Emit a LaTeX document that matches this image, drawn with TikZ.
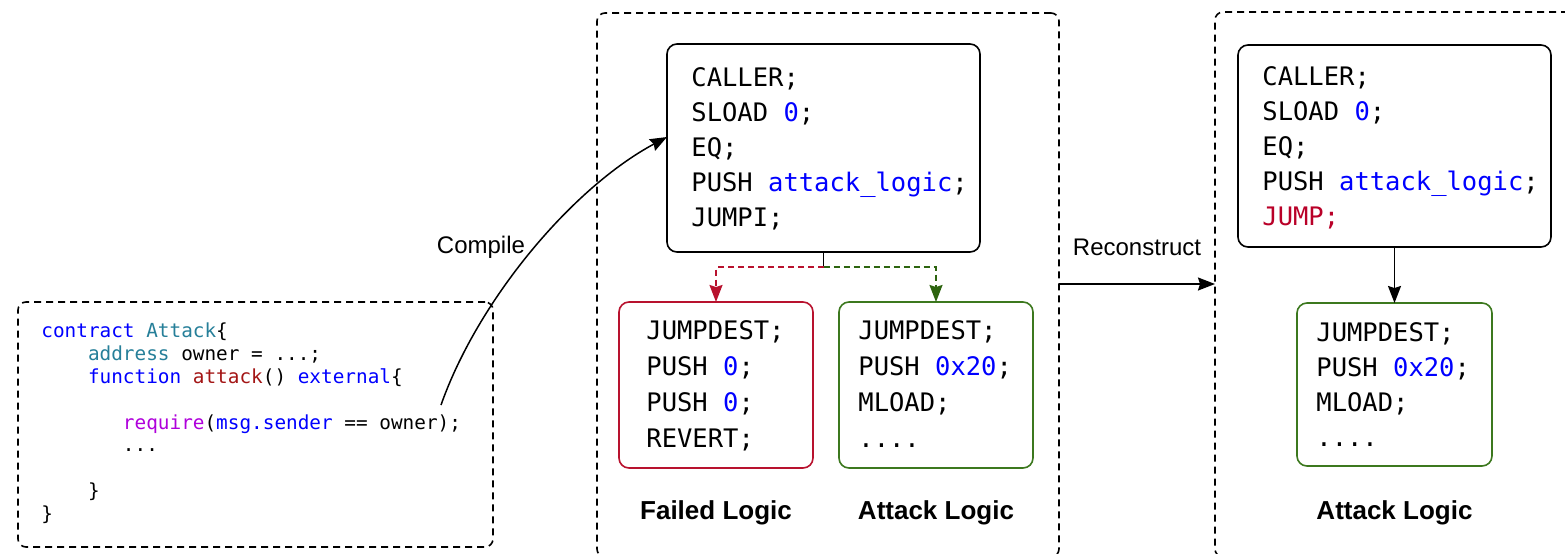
\documentclass[tikz,border=0pt]{standalone}
\usepackage{fontspec}
\setmainfont{Liberation Sans}
\newfontfamily\codefont[Numbers=SlashedZero]{DejaVu Sans Mono}
\usetikzlibrary{arrows.meta}

\definecolor{kwblue}{RGB}{0,0,255}
\definecolor{typeteal}{RGB}{38,127,153}
\definecolor{fnred}{RGB}{163,21,21}
\definecolor{ctrlmag}{RGB}{175,0,219}
\definecolor{jumpred}{RGB}{185,0,40}
\definecolor{failred}{RGB}{184,18,46}
\definecolor{okgreen}{RGB}{60,120,30}
\definecolor{branchgreen}{RGB}{45,100,15}

% first-line strut: fixes the distance from node top to first baseline
\newcommand{\firstline}{\rule{0pt}{12pt}}
\newcommand{\jumplabel}{attack\string_logic}

\begin{document}
\begin{tikzpicture}[x=0.5pt,y=-0.5pt,
  group/.style={draw, dash pattern=on 3.5pt off 2.5pt, rounded corners=4pt,
    line width=0.8pt, outer sep=0pt, inner sep=0pt},
  block/.style={draw, rounded corners=5pt, line width=0.8pt,
    outer sep=0pt, inner sep=0pt},
  code/.style={anchor=north west, inner sep=0pt, align=left},
  bigcode/.style={code, font=\codefont\fontsize{12.75}{17.5}\selectfont},
  arrow/.style={line width=0.75pt,
    -{Stealth[length=8.5pt,width=6.5pt,inset=1pt]}},
  caption/.style={inner sep=0pt, font=\fontsize{12}{14}\selectfont},
  title/.style={inner sep=0pt, font=\bfseries\fontsize{13}{15}\selectfont}]

\useasboundingbox (0,0) rectangle (1565,553);
\clip (0,0) rectangle (1565,553);

% ---- dashed containers ----
\node[group, minimum width=237.5pt, minimum height=122.5pt] (source) at (255.5,424.5) {};
\node[group, minimum width=231pt, minimum height=272pt] (midgroup) at (828,285) {};
\node[group, minimum width=192.5pt, minimum height=272.5pt] (rightgroup) at (1407.5,284.5) {};

% ---- Solidity source ----
\node[code, font=\codefont\fontsize{9.68}{11.45}\selectfont] (src) at (41,313) {%
\firstline\textcolor{kwblue}{contract} \textcolor{typeteal}{Attack}\{\\
\hphantom{0000}\textcolor{typeteal}{address} owner = ...;\\
\hphantom{0000}\textcolor{kwblue}{function} \textcolor{fnred}{attack}() \textcolor{kwblue}{external}\{\\
\mbox{}\\
\hphantom{0000000}\textcolor{ctrlmag}{require}(\textcolor{kwblue}{msg.sender} == owner);\\
\hphantom{0000000}...\\
\mbox{}\\
\hphantom{0000}\}\\
\}};

% ---- compiled bytecode ----
\node[block, minimum width=156.5pt, minimum height=104pt] (midtop) at (823.5,148) {};
\node[bigcode] (midtoptext) at (691,62.3) {%
\firstline CALLER;\\
SLOAD \textcolor{kwblue}{0};\\
EQ;\\
PUSH \textcolor{kwblue}{\jumplabel};\\
JUMPI;};

\node[block, draw=failred, minimum width=97pt, minimum height=83pt] (failed) at (716,385) {};
\node[code, font=\codefont\fontsize{12.75}{18}\selectfont] (failedtext) at (646,315.3) {%
\firstline JUMPDEST;\\
PUSH \textcolor{kwblue}{0};\\
PUSH \textcolor{kwblue}{0};\\
REVERT;};

\node[block, draw=okgreen, minimum width=97pt, minimum height=83pt] (attack) at (936,385) {};
\node[code, font=\codefont\fontsize{12.75}{18}\selectfont] (attacktext) at (858,315.3) {%
\firstline JUMPDEST;\\
PUSH \textcolor{kwblue}{0x20};\\
MLOAD;\\
....};

\node[title] (failedlabel) at (716,513) {Failed Logic};
\node[title] (attacklabel) at (936,513) {Attack Logic};

% ---- reconstructed bytecode ----
\node[block, minimum width=156.5pt, minimum height=101pt] (righttop) at (1394.5,146) {};
\node[bigcode] (righttoptext) at (1262,61.3) {%
\firstline CALLER;\\
SLOAD \textcolor{kwblue}{0};\\
EQ;\\
PUSH \textcolor{kwblue}{\jumplabel};\\
\textcolor{jumpred}{JUMP;}};

\node[block, draw=okgreen, minimum width=97.5pt, minimum height=81.5pt] (rightattack) at (1394.5,384.5) {};
\node[bigcode] (rightattacktext) at (1316,317) {%
\firstline JUMPDEST;\\
PUSH \textcolor{kwblue}{0x20};\\
MLOAD;\\
....};

\node[title] (rightlabel) at (1394.5,513) {Attack Logic};

% ---- connectors ----
\coordinate (compilefrom) at (441,405);
\draw[arrow] (compilefrom) .. controls (478,300) and (572,188) .. ([yshift=5.5pt]midtop.west);
\node[caption] (compilelabel) at (481,247) {Compile};

\draw[line width=0.75pt] (midtop.south) -- ++(0,15) coordinate (fork);
\draw[arrow, failred, dash pattern=on 3pt off 2pt] (fork) -| (failed.north);
\draw[arrow, branchgreen, dash pattern=on 3pt off 2pt] (fork) -| (attack.north);

\coordinate (reclevel) at (1130,284);
\draw[arrow] (midgroup.east |- reclevel) -- (rightgroup.west |- reclevel);
\node[caption] (reclabel) at (1137,247) {Reconstruct};

\draw[arrow] (righttop.south) -- (rightattack.north);

\end{tikzpicture}
\end{document}
